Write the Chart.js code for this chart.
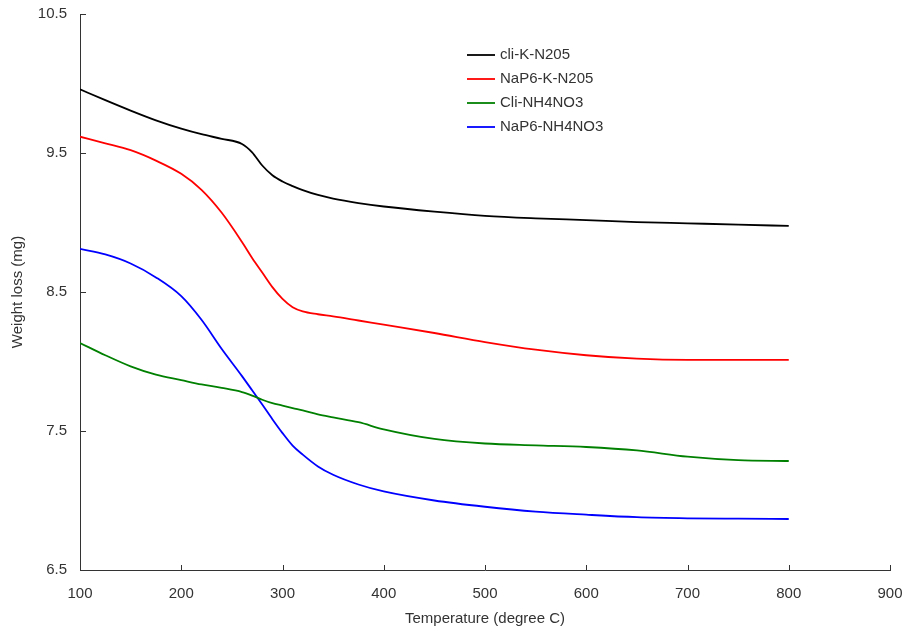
<!DOCTYPE html>
<html>
<head>
<meta charset="utf-8">
<script src="https://cdn.jsdelivr.net/npm/chart.js@4.4.1/dist/chart.umd.min.js"></script>
<style>
  html, body { margin: 0; padding: 0; background: #fff; }
  #wrap { width: 905px; height: 630px; }
</style>
</head>
<body>
<div id="wrap"><canvas id="c"></canvas></div>
<script>
// temperature (degree C)
const temps = [100, 125, 150, 175, 200, 220, 240, 260, 270, 280, 290, 300, 310, 320, 335, 350, 375, 400, 450, 500, 550, 600, 650, 700, 750, 800]

// weight (mg) per sample
const cliKN205 = [9.958, 9.88, 9.805, 9.735, 9.675, 9.635, 9.602, 9.565, 9.505, 9.41, 9.34, 9.295, 9.262, 9.233, 9.198, 9.172, 9.14, 9.115, 9.078, 9.048, 9.03, 9.017, 9.003, 8.994, 8.985, 8.975]
const nap6KN205 = [9.617, 9.57, 9.52, 9.445, 9.35, 9.235, 9.07, 8.86, 8.745, 8.64, 8.535, 8.45, 8.39, 8.36, 8.34, 8.325, 8.295, 8.265, 8.205, 8.14, 8.085, 8.045, 8.02, 8.011, 8.011, 8.011]
const cliNH4NO3 = [8.133, 8.045, 7.965, 7.905, 7.866, 7.835, 7.81, 7.78, 7.755, 7.725, 7.70, 7.683, 7.665, 7.648, 7.62, 7.598, 7.563, 7.512, 7.443, 7.41, 7.397, 7.385, 7.36, 7.315, 7.29, 7.284]
const nap6NH4NO3 = [8.81, 8.77, 8.705, 8.605, 8.47, 8.30, 8.09, 7.895, 7.793, 7.69, 7.585, 7.485, 7.395, 7.33, 7.245, 7.185, 7.115, 7.065, 7.0, 6.955, 6.92, 6.898, 6.88, 6.872, 6.869, 6.867]

const seriesNames = ["cli-K-N205", "NaP6-K-N205", "Cli-NH4NO3", "NaP6-NH4NO3"]
const seriesColors = ["#000000", "#ff0000", "#008000", "#0000ff"]

const xTicks = [100, 200, 300, 400, 500, 600, 700, 800, 900]
const yTicks = [6.5, 7.5, 8.5, 9.5, 10.5]

const FONT = "'Liberation Sans', Arial, sans-serif"
const TEXT = "#333333"

const toPoints = (vals) => vals.map((v, i) => ({ x: temps[i], y: v }))

const datasets = [cliKN205, nap6KN205, cliNH4NO3, nap6NH4NO3].map((vals, i) => ({
  label: seriesNames[i],
  data: toPoints(vals),
  borderColor: seriesColors[i],
  backgroundColor: seriesColors[i],
  borderWidth: 1.8,
  pointRadius: 0,
  tension: 0.4,
  cubicInterpolationMode: "monotone",
  fill: false
}))

// inward tick marks + legend inside plot
const extras = {
  id: "extras",
  afterDraw(chart) {
    const ctx = chart.ctx
    const area = chart.chartArea
    const xs = chart.scales.x
    const ys = chart.scales.y
    ctx.save()
    ctx.strokeStyle = TEXT
    ctx.lineWidth = 1
    ctx.beginPath()
    xTicks.forEach(t => {
      const px = Math.round(xs.getPixelForValue(t)) + 0.5
      ctx.moveTo(px, area.bottom)
      ctx.lineTo(px, area.bottom - 5)
    })
    yTicks.forEach(t => {
      const py = Math.round(ys.getPixelForValue(t)) + 0.5
      ctx.moveTo(area.left, py)
      ctx.lineTo(area.left + 6, py)
    })
    ctx.stroke()

    // legend
    ctx.font = "15px " + FONT
    ctx.textBaseline = "middle"
    ctx.textAlign = "left"
    chart.data.datasets.forEach((ds, i) => {
      const y = 55 + i * 24
      ctx.strokeStyle = ds.borderColor
      ctx.lineWidth = 1.8
      ctx.beginPath()
      ctx.moveTo(467, y)
      ctx.lineTo(495, y)
      ctx.stroke()
      ctx.fillStyle = TEXT
      ctx.fillText(ds.label, 500, y)
    })
    ctx.restore()
  }
}

new Chart(document.getElementById("c"), {
  type: "line",
  data: { datasets },
  plugins: [extras],
  options: {
    responsive: true,
    maintainAspectRatio: false,
    animation: false,
    layout: { padding: { top: 14, right: 15, left: 0, bottom: 0 } },
    plugins: {
      legend: { display: false },
      tooltip: { enabled: false }
    },
    scales: {
      x: {
        type: "linear",
        min: 100,
        max: 900,
        afterBuildTicks: (s) => { s.ticks = xTicks.map(v => ({ value: v })) },
        afterFit: (s) => { s.height = 60; s.paddingLeft = 0; s.paddingRight = 0 },
        grid: { display: false, drawTicks: false },
        border: { display: true, color: TEXT, width: 1 },
        ticks: { color: TEXT, font: { family: FONT, size: 15 }, padding: 15, maxRotation: 0 },
        title: { display: true, text: "Temperature (degree C)", color: TEXT, font: { family: FONT, size: 15 }, padding: { top: 4, bottom: 2 } }
      },
      y: {
        min: 6.5,
        max: 10.5,
        afterBuildTicks: (s) => { s.ticks = yTicks.map(v => ({ value: v })) },
        afterFit: (s) => { s.width = 80; s.paddingTop = 0; s.paddingBottom = 0 },
        grid: { display: false, drawTicks: false },
        border: { display: true, color: TEXT, width: 1 },
        ticks: { color: TEXT, font: { family: FONT, size: 15 }, padding: 13, callback: (v) => v.toFixed(1) },
        title: { display: true, text: "Weight loss (mg)", color: TEXT, font: { family: FONT, size: 15 }, padding: { top: 9, bottom: 4 } }
      }
    }
  }
})
</script>
</body>
</html>
